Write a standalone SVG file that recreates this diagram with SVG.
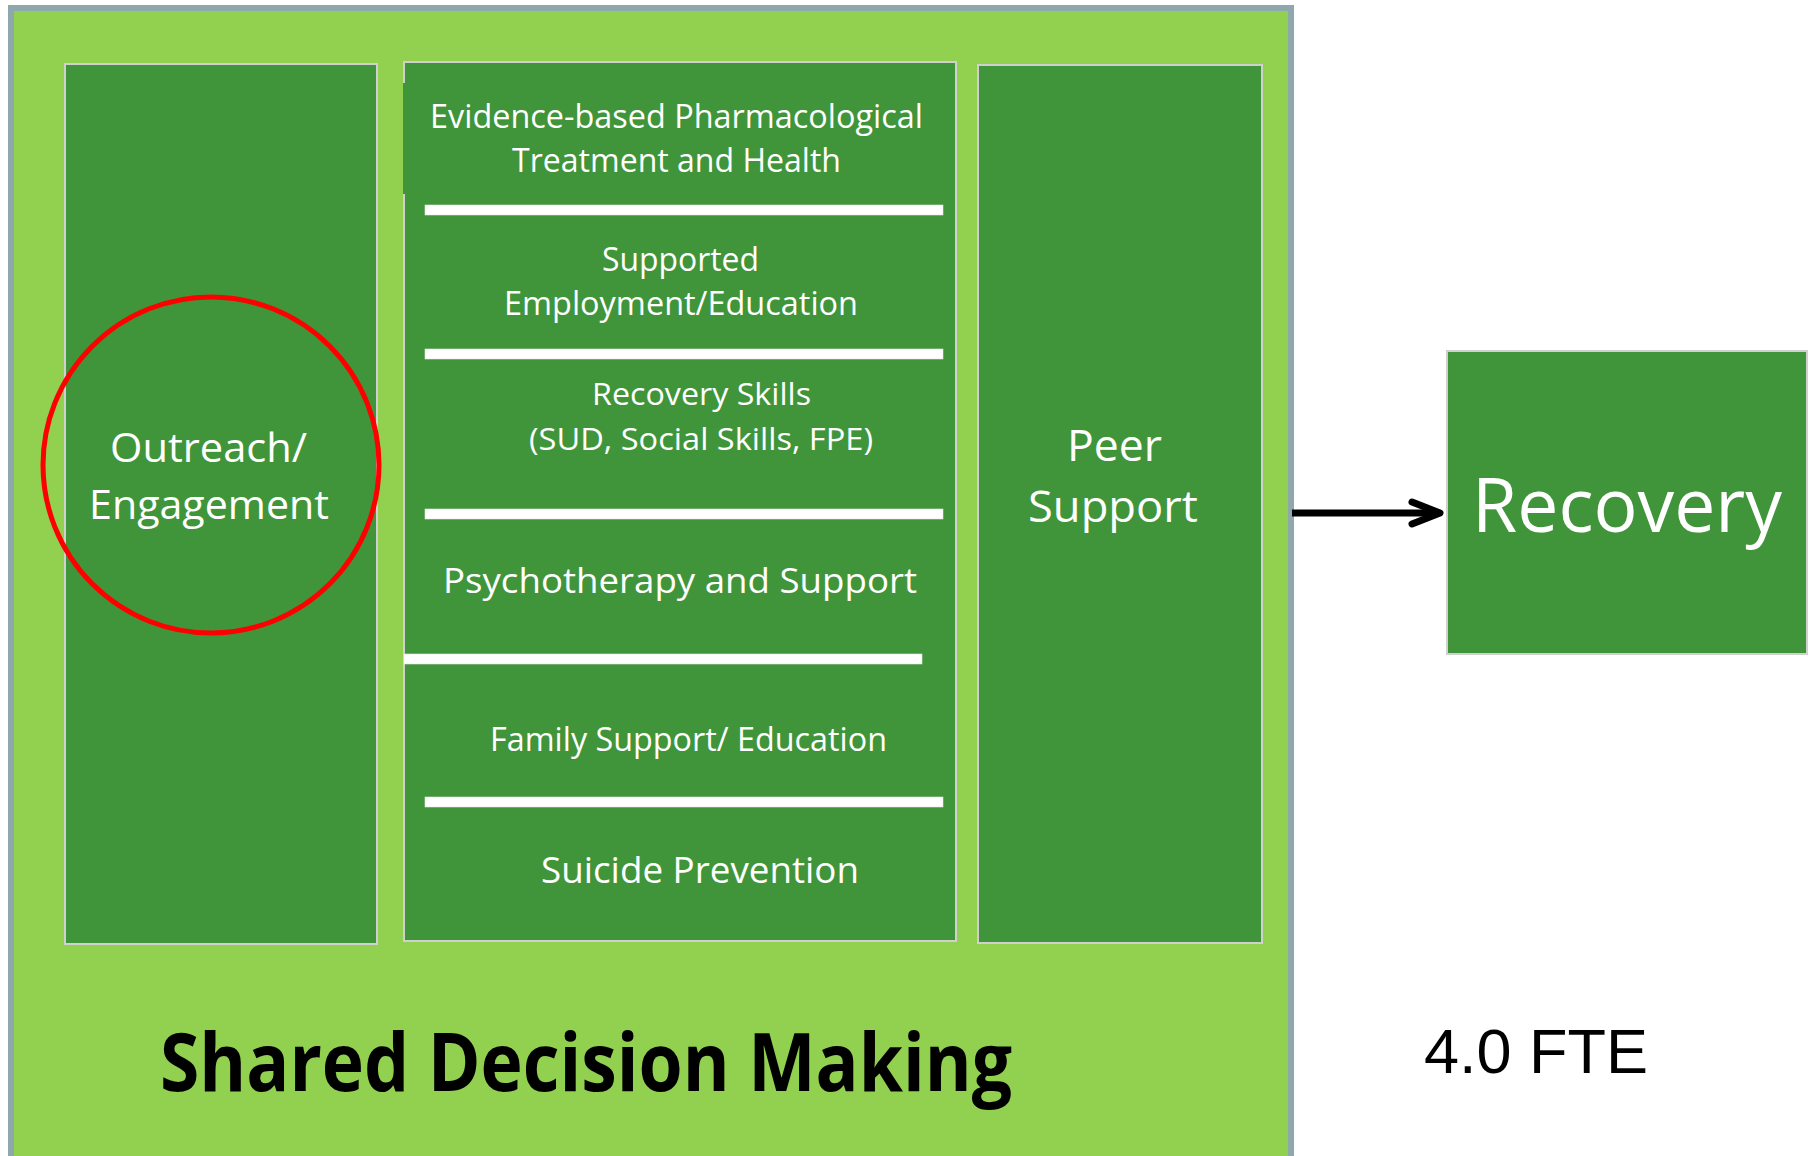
<svg xmlns="http://www.w3.org/2000/svg" width="1814" height="1156" viewBox="0 0 1814 1156">
  <style>
    .frame { fill: #92D050; stroke: #8FA8AE; stroke-width: 6; }
    .box { fill: #40953A; stroke: #D0D0D0; stroke-width: 2; }
    .div { fill: #FFFFFF; stroke: #E4E4E4; stroke-width: 0.6; }
    .t { font-family: "Open Sans", "Lato", "Liberation Sans", sans-serif; fill: #FFFFFF; }
    .ring { fill: none; stroke: #FF0000; stroke-width: 5; }
    .conn { stroke: #000000; stroke-width: 7; fill: none; }
  </style>
  <defs>
    <marker id="arrow" markerUnits="userSpaceOnUse" viewBox="0 0 44 34" refX="34" refY="17" markerWidth="44" markerHeight="34" orient="auto" overflow="visible">
      <path d="M8,6 L36,17 L8,28" fill="none" stroke="#000000" stroke-width="7" stroke-linecap="round" stroke-linejoin="round"/>
    </marker>
  </defs>
  <rect x="0" y="0" width="1814" height="1156" fill="#FFFFFF"/>

  <g id="shared-decision-making">
    <rect class="frame" x="11" y="8" width="1280" height="1164"/>
    <text x="160" y="1091" font-family="'Open Sans', 'Lato', 'Liberation Sans', sans-serif" font-weight="bold" font-size="80" fill="#000000" textLength="852" lengthAdjust="spacingAndGlyphs">Shared Decision Making</text>
  </g>

  <g id="outreach-engagement">
    <rect class="box" x="65" y="64" width="312" height="880"/>
    <text class="t" x="110" y="462" font-size="41" textLength="197" lengthAdjust="spacingAndGlyphs">Outreach/</text>
    <text class="t" x="89" y="519" font-size="41" textLength="240" lengthAdjust="spacingAndGlyphs">Engagement</text>
    <ellipse class="ring" cx="211" cy="465" rx="168" ry="168"/>
  </g>

  <g id="services">
    <rect class="box" x="404" y="62" width="552" height="879"/>
    <rect x="403" y="83" width="2.5" height="111" fill="#40953A"/>
    <text class="t" x="430" y="128" font-size="32" textLength="493" lengthAdjust="spacingAndGlyphs">Evidence-based Pharmacological</text>
    <text class="t" x="512" y="172" font-size="32" textLength="329" lengthAdjust="spacingAndGlyphs">Treatment and Health</text>
    <rect class="div" x="425" y="205" width="518" height="10"/>
    <text class="t" x="602" y="271" font-size="32" textLength="157" lengthAdjust="spacingAndGlyphs">Supported</text>
    <text class="t" x="504" y="315" font-size="32" textLength="354" lengthAdjust="spacingAndGlyphs">Employment/Education</text>
    <rect class="div" x="425" y="349" width="518" height="10"/>
    <text class="t" x="592" y="405" font-size="31" textLength="219" lengthAdjust="spacingAndGlyphs">Recovery Skills</text>
    <text class="t" x="529" y="450" font-size="31" textLength="344" lengthAdjust="spacingAndGlyphs">(SUD, Social Skills, FPE)</text>
    <rect class="div" x="425" y="509" width="518" height="10"/>
    <text class="t" x="443" y="593" font-size="35" textLength="474" lengthAdjust="spacingAndGlyphs">Psychotherapy and Support</text>
    <rect class="div" x="404" y="654" width="518" height="10"/>
    <text class="t" x="490" y="751" font-size="32" textLength="397" lengthAdjust="spacingAndGlyphs">Family Support/ Education</text>
    <rect class="div" x="425" y="797" width="518" height="10"/>
    <text class="t" x="541" y="883" font-size="36" textLength="318" lengthAdjust="spacingAndGlyphs">Suicide Prevention</text>
  </g>

  <g id="peer-support">
    <rect class="box" x="978" y="65" width="284" height="878"/>
    <text class="t" x="1067" y="461" font-size="44" textLength="95" lengthAdjust="spacingAndGlyphs">Peer</text>
    <text class="t" x="1028" y="522" font-size="44" textLength="170" lengthAdjust="spacingAndGlyphs">Support</text>
  </g>

  <g id="recovery">
    <rect class="box" x="1447" y="351" width="360" height="303"/>
    <text class="t" x="1472" y="532" font-size="75" textLength="310" lengthAdjust="spacingAndGlyphs">Recovery</text>
  </g>

  <g id="fte">
    <text x="1424" y="1073" font-family="'Liberation Sans', Arial, sans-serif" font-size="63" fill="#000000">4.0 FTE</text>
  </g>

  <g id="connectors">
    <line class="conn" x1="1292" y1="513" x2="1438" y2="513" marker-end="url(#arrow)"/>
  </g>
</svg>
